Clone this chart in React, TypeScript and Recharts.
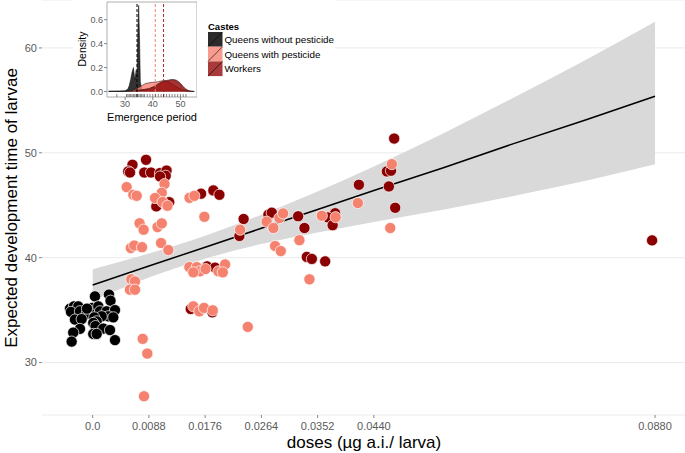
import {
  ComposedChart,
  Area,
  Line,
  Scatter,
  XAxis,
  YAxis,
  CartesianGrid,
  ReferenceLine,
  ReferenceArea,
} from 'recharts'

const FONT = '"Liberation Sans", Arial, sans-serif'

// main plot: dose (jittered as drawn) vs expected development time
const queensControl: [number, number][] = [
  [0.00036, 36.31], [0.00255, 36.48], [0.00279, 35.9], [-0.00355, 35.14], [-0.00293, 35.36],
  [-0.00226, 35.36], [-0.0034, 34.83], [-0.00199, 34.89], [-0.00094, 34.64], [-0.00006, 35.21],
  [0.00088, 35.36], [0.00114, 34.89], [0.00219, 34.89], [0.00349, 35.0], [0.00244, 34.41],
  [0.00141, 34.41], [0.00025, 34.31], [-0.00277, 34.1], [-0.00172, 34.14], [0.00063, 33.93],
  [0.00323, 34.31], [0.00009, 33.78], [0.00044, 33.48], [0.00166, 33.24], [-0.00199, 33.21],
  [-0.00304, 32.86], [0.00009, 32.73], [0.00063, 32.73], [0.00271, 33.1], [-0.00329, 32.0],
  [0.00349, 32.14], [-0.00089, 35.14],
]

const workers: [number, number][] = [
  [0.00835, 49.33], [0.00623, 48.86], [0.00557, 48.22], [0.00584, 48.12], [0.00808, 48.12],
  [0.00913, 48.12], [0.01054, 48.07], [0.01156, 48.31], [0.01143, 47.81], [0.01054, 47.74],
  [0.00996, 44.89], [0.01198, 45.29], [0.01696, 46.1], [0.01889, 46.41], [0.01983, 46.0],
  [0.02362, 43.69], [0.02296, 42.07], [0.0179, 39.17], [0.01915, 39.05], [0.01535, 35.11],
  [0.01873, 34.79], [0.0275, 44.1], [0.02803, 44.29], [0.03215, 43.95], [0.03314, 42.83],
  [0.03794, 44.24], [0.0368, 43.84], [0.03755, 43.1], [0.03351, 40.07], [0.0343, 39.88],
  [0.03638, 39.65], [0.04718, 51.36], [0.04604, 48.22], [0.04668, 48.29], [0.04166, 46.95],
  [0.04635, 46.79], [0.04734, 44.76], [0.08754, 41.65],
]

const queensPesticide: [number, number][] = [
  [0.00532, 46.73], [0.00636, 46.0], [0.00689, 45.9], [0.01124, 47.02], [0.01081, 46.19],
  [0.00976, 45.69], [0.01093, 45.31], [0.01171, 44.95], [0.01516, 45.71], [0.01591, 45.9],
  [0.01748, 43.9], [0.00734, 43.28], [0.00797, 42.67], [0.01015, 42.92], [0.01081, 43.27],
  [0.0107, 41.4], [0.01184, 40.73], [0.00597, 40.92], [0.00651, 41.16], [0.00772, 41.0],
  [0.00604, 37.94], [0.00662, 37.74], [0.00584, 36.95], [0.00662, 36.95], [0.00783, 32.26],
  [0.00855, 30.86], [0.00803, 26.79], [0.02307, 42.67], [0.01513, 39.1], [0.01629, 39.1],
  [0.0168, 38.7], [0.01766, 38.92], [0.01967, 38.7], [0.02072, 39.36], [0.02036, 38.6],
  [0.01575, 38.6], [0.01575, 35.36], [0.01669, 34.89], [0.01743, 35.21], [0.01879, 34.98],
  [0.02427, 33.4], [0.02722, 43.43], [0.02828, 42.83], [0.02922, 43.78], [0.0298, 44.22],
  [0.03235, 41.67], [0.02855, 41.11], [0.02944, 40.63], [0.03586, 44.0], [0.03802, 43.86],
  [0.03392, 37.94], [0.04682, 48.92], [0.0415, 45.21], [0.04656, 42.83],
]

// linear fit with confidence band
const fitDoses = [0, 0.0088, 0.0176, 0.0264, 0.0352, 0.044, 0.055, 0.066, 0.077, 0.088]
const fitValues = [37.4, 39.2, 41.0, 42.8, 44.6, 46.4, 48.6, 50.9, 53.1, 55.4]
const bandLow = [35.9, 38.1, 39.9, 41.3, 42.4, 43.4, 44.6, 45.9, 47.3, 48.9]
const bandHigh = [38.9, 40.4, 42.1, 44.1, 46.3, 48.7, 51.9, 55.3, 58.8, 62.5]

const doseTicks = [0, 0.0088, 0.0176, 0.0264, 0.0352, 0.044, 0.088]
const valueTicks = [30, 40, 50, 60]

// inset: emergence period densities
const emergence = [
  24, 26, 28, 30, 31, 31.5, 32, 32.5, 33, 33.5, 34, 34.3, 34.6, 34.9, 35.2, 35.5, 36, 36.5, 37,
  38, 39, 40, 41, 42, 43, 44, 45, 46, 47, 48, 49, 50, 51, 52, 53, 54, 55,
]
const densControl = [
  0.003, 0.003, 0.004, 0.006, 0.02, 0.05, 0.1, 0.16, 0.2, 0.1, 0.18, 0.12, 0.5, 0.72, 0.45, 0.08,
  0.02, 0.008, 0.004, 0.003, 0.003, 0.003, 0.003, 0.003, 0.003, 0.003, 0.003, 0.003, 0.003, 0.003,
  0.003, 0.003, 0.003, 0.003, 0.002, 0.001, 0,
]
const densPesticide = [
  0, 0.001, 0.001, 0.002, 0.003, 0.004, 0.006, 0.008, 0.012, 0.016, 0.022, 0.026, 0.03, 0.034,
  0.038, 0.042, 0.048, 0.055, 0.062, 0.07, 0.074, 0.077, 0.078, 0.082, 0.088, 0.09, 0.086, 0.076,
  0.062, 0.047, 0.032, 0.019, 0.009, 0.004, 0.002, 0.001, 0,
]
const densWorkers = [
  0.001, 0.001, 0.001, 0.001, 0.001, 0.001, 0.001, 0.002, 0.003, 0.005, 0.008, 0.009, 0.01, 0.011,
  0.012, 0.013, 0.014, 0.016, 0.018, 0.022, 0.028, 0.037, 0.05, 0.065, 0.078, 0.087, 0.092, 0.097,
  0.1, 0.098, 0.088, 0.068, 0.042, 0.02, 0.008, 0.003, 0.001,
]
const meanControl = 34.3
const meanPesticide = 40.9
const meanWorkers = 43.9
const rugValues = [
  27, 30.5, 31, 31.5, 32, 32.5, 33, 33.5, 34, 34.5, 35, 35.5, 36, 36.5, 37, 38, 39, 40, 41, 42, 43,
  44, 45, 46, 47, 48, 49, 50, 51, 52,
]
const densityTicks = [0, 0.2, 0.4, 0.6]
const emergenceTicks = [30, 40, 50]

const castes = ['Queens without pesticide', 'Queens with pesticide', 'Workers']
const casteFills = ['#2b2b2b', '#f99c90', '#a83a3a']

const toPoints = (rows: [number, number][]) => rows.map(([dose, val]) => ({ dose, val }))

const bandData = fitDoses.map((dose, i) => ({
  dose,
  fit: fitValues[i],
  band: [bandLow[i], bandHigh[i]],
}))

const densityData = emergence.map((x, i) => ({
  x,
  qc: densControl[i],
  qp: densPesticide[i],
  w: densWorkers[i],
}))

const rugData = rugValues.map((x) => ({ x, y: 0 }))

function fmtDose(v: number): string {
  return v === 0 ? '0.0' : v.toFixed(4)
}

const dot = (color: string) => (props: any) => (
  <circle cx={props.cx} cy={props.cy} r={5.6} fill={color} stroke="#fff" strokeWidth={0.7} />
)

const rugTick = (props: any) => (
  <line x1={props.cx} x2={props.cx} y1={props.cy + 2.5} y2={props.cy + 5.5} stroke="#333" strokeWidth={0.6} />
)

function YTitle() {
  return (
    <text x={11} y={208} transform="rotate(-90 11 208)" textAnchor="middle" dominantBaseline="central"
      fontSize={17} fontFamily={FONT} fill="#000">
      Expected development time of larvae
    </text>
  )
}

function XTitle() {
  return (
    <text x={364} y={442} textAnchor="middle" dominantBaseline="central" fontSize={17} fontFamily={FONT} fill="#000">
      doses (µg a.i./ larva)
    </text>
  )
}

function DensityTitle() {
  return (
    <text x={9} y={49} transform="rotate(-90 9 49)" textAnchor="middle" dominantBaseline="central"
      fontSize={10.5} fontFamily={FONT} fill="#000">
      Density
    </text>
  )
}

function EmergenceTitle() {
  return (
    <text x={79} y={117} textAnchor="middle" dominantBaseline="central" fontSize={11} fontFamily={FONT} fill="#000">
      Emergence period
    </text>
  )
}

function InsetLegend() {
  return (
    <svg width={340} height={80} style={{ position: 'absolute', left: 0, top: 0 }}>
      <text x={208} y={26} dominantBaseline="central" fontSize={9.5} fontWeight="bold" fontFamily={FONT}>
        Castes
      </text>
      {castes.map((name, i) => {
        const y = 32 + i * 14.7
        return (
          <g key={name}>
            <rect x={208} y={y} width={14.5} height={14.7} fill={casteFills[i]} />
            <line x1={208} y1={y + 14.7} x2={222.5} y2={y} stroke="#000" strokeWidth={0.6} />
            <text x={224.5} y={y + 7.4} dominantBaseline="central" fontSize={9.8} fontFamily={FONT}>
              {name}
            </text>
          </g>
        )
      })}
    </svg>
  )
}

const tickStyle = { fontSize: 11, fill: '#5a5a5a', fontFamily: FONT }
const insetTick = { fontSize: 9, fill: '#5a5a5a', fontFamily: FONT }

export default function App() {
  return (
    <div style={{ position: 'absolute', left: 0, top: 0, width: 685, height: 453, background: '#fff' }}>
      <ComposedChart width={685} height={453} data={bandData} margin={{ top: 0, right: 0, bottom: 0, left: 0 }}>
        <CartesianGrid vertical={false} stroke="#ebebeb" />
        <XAxis
          type="number"
          dataKey="dose"
          domain={[-0.00793, 0.09269]}
          ticks={doseTicks}
          tickFormatter={fmtDose}
          allowDataOverflow
          height={38}
          axisLine={false}
          tickLine={{ stroke: '#888' }}
          tickSize={3}
          tickMargin={4}
          tick={tickStyle}
          label={<XTitle />}
        />
        <YAxis
          type="number"
          dataKey="val"
          domain={[25, 64.57]}
          ticks={valueTicks}
          allowDataOverflow
          width={42}
          axisLine={false}
          tickLine={{ stroke: '#888' }}
          tickSize={3}
          tick={tickStyle}
          label={<YTitle />}
        />
        <Area type="monotone" dataKey="band" fill="#d9d9d9" fillOpacity={1} stroke="none" isAnimationActive={false} />
        <Line type="linear" dataKey="fit" stroke="#000" strokeWidth={1.5} dot={false} isAnimationActive={false} />
        <Scatter data={toPoints(queensControl)} fill="#000" shape={dot('#000')} isAnimationActive={false} />
        <Scatter data={toPoints(workers)} fill="#8b0000" shape={dot('#8b0000')} isAnimationActive={false} />
        <Scatter data={toPoints(queensPesticide)} fill="#f5826f" shape={dot('#f5826f')} isAnimationActive={false} />
      </ComposedChart>

      <div style={{ position: 'absolute', left: 73, top: 0, width: 262, height: 125, background: '#fff' }} />
      <div style={{ position: 'absolute', left: 73, top: 0 }}>
        <ComposedChart width={124} height={124} data={densityData} margin={{ top: 2, right: 0, bottom: 0, left: 0 }}>
          <XAxis
            type="number"
            dataKey="x"
            domain={[23.44, 56]}
            ticks={emergenceTicks}
            allowDataOverflow
            height={27}
            axisLine={false}
            tickLine={{ stroke: '#888' }}
            tickSize={3}
            tickMargin={1}
            tick={insetTick}
            label={<EmergenceTitle />}
          />
          <YAxis
            type="number"
            dataKey="y"
            domain={[-0.046, 0.748]}
            ticks={densityTicks}
            tickFormatter={(v: number) => v.toFixed(1)}
            allowDataOverflow
            width={34}
            axisLine={false}
            tickLine={{ stroke: '#888' }}
            tickSize={3}
            tickMargin={1}
            tick={insetTick}
            label={<DensityTitle />}
          />
          <Area type="linear" dataKey="qc" baseValue={0} fill="#000" fillOpacity={0.8} stroke="#000" strokeWidth={0.5} isAnimationActive={false} />
          <Area type="monotone" dataKey="qp" baseValue={0} fill="#fa8072" fillOpacity={0.8} stroke="#000" strokeWidth={0.5} isAnimationActive={false} />
          <Area type="monotone" dataKey="w" baseValue={0} fill="#8b0000" fillOpacity={0.8} stroke="#000" strokeWidth={0.5} isAnimationActive={false} />
          <ReferenceLine x={meanControl} stroke="#000" strokeDasharray="3 2" />
          <ReferenceLine x={meanPesticide} stroke="#f08070" strokeDasharray="3 2" />
          <ReferenceLine x={meanWorkers} stroke="#b22222" strokeDasharray="3 2" />
          <Scatter data={rugData} shape={rugTick} isAnimationActive={false} />
          <ReferenceArea x1={23.44} x2={56} y1={-0.046} y2={0.748} fill="none" stroke="#999" strokeWidth={0.8} ifOverflow="visible" />
        </ComposedChart>
      </div>
      <InsetLegend />
    </div>
  )
}
